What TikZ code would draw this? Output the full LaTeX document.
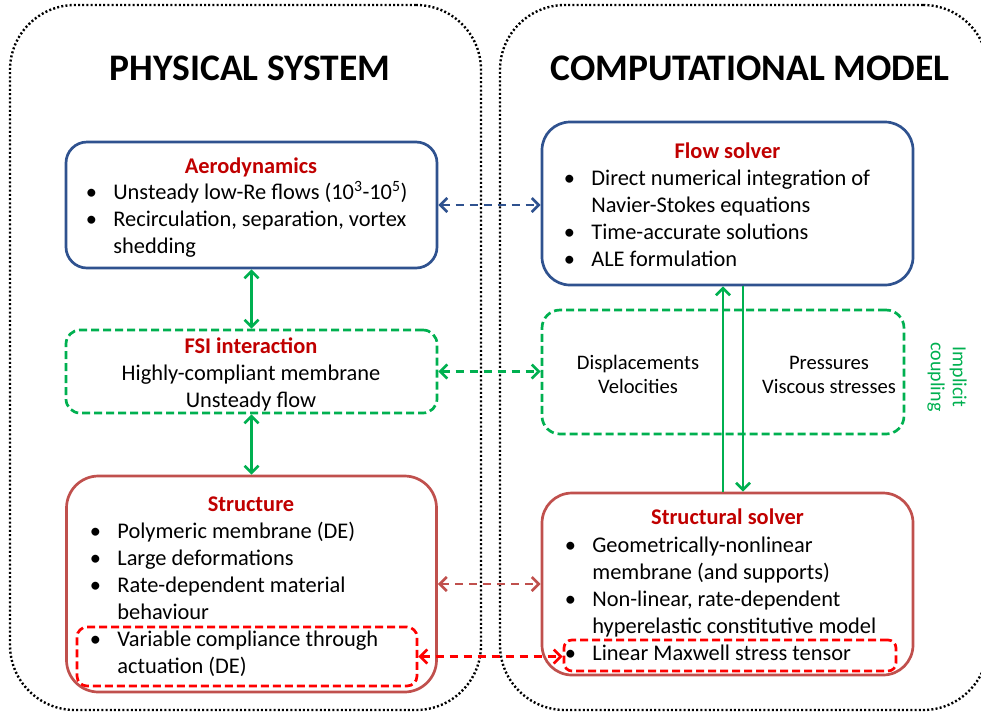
\documentclass[tikz,border=0pt]{standalone}
\usepackage{fontspec}
\setmainfont{Carlito}
\usepackage{tikz}
\usetikzlibrary{arrows.meta, positioning}
\definecolor{boxBlue}{RGB}{47,82,143}
\definecolor{boxBrown}{RGB}{192,80,77}
\definecolor{headRed}{RGB}{192,0,0}
\definecolor{linkGreen}{RGB}{0,176,80}
\definecolor{linkRed}{RGB}{255,0,0}
\newcommand{\bodyfont}{\fontsize{22.4}{27}\selectfont}
\newcommand{\smallbody}{\fontsize{20.6}{24}\selectfont}
\newcommand{\head}[1]{{\bfseries\color{headRed}#1}}
\newcommand{\bul}{\makebox[0pt]{\textbullet}}
\begin{document}
\begin{tikzpicture}[x=1pt, y=-1pt, >={Straight Barb[length=7pt, width=14pt]}, line width=2.7pt]
        % Estilos para los paneles, bloques y enlaces
        \tikzstyle{panel} = [draw, line width=2.4pt, dash pattern=on 2pt off 2.2pt, rounded corners=65pt, inner sep=0pt]
        \tikzstyle{block} = [draw, rectangle, inner sep=0pt]
        \tikzstyle{dashbox} = [block, dash pattern=on 8pt off 4pt]
        \tikzstyle{title} = [anchor=base, font=\fontsize{37.5}{40}\selectfont\bfseries]
        \tikzstyle{blist} = [anchor=base west, inner sep=0pt, font=\bodyfont]
        \tikzstyle{link} = [<->, dash pattern=on 8pt off 6pt]
        \useasboundingbox (0,0) rectangle (981,713);
       % Panels
       \node at (245.5,357.5) [panel, minimum width=471pt, minimum height=705pt] (physical) {}; % Physical system panel
       \node at (744,357.5) [panel, minimum width=488pt, minimum height=705pt] (computational) {}; % Computational model panel
       \node at (250,80) [title] (physTitle) {PHYSICAL SYSTEM};
       \node at (750,80) [title] (compTitle) {COMPUTATIONAL MODEL};
       % Blocks
       \node at (251.5,205) [block, boxBlue, rounded corners=21pt, minimum width=371pt, minimum height=126pt] (aero) {}; % Aerodynamics
       \node at (251.5,371.5) [dashbox, linkGreen, rounded corners=14pt, minimum width=371pt, minimum height=83pt] (fsi) {}; % FSI interaction
       \node at (251.5,584) [block, boxBrown, rounded corners=32pt, minimum width=370pt, minimum height=216pt] (structure) {}; % Structure
       \node at (247,656.5) [dashbox, linkRed, rounded corners=10pt, minimum width=340pt, minimum height=59pt] (actuation) {}; % Actuation item
       \node at (727.5,203.5) [block, boxBlue, rounded corners=28pt, minimum width=371pt, minimum height=163pt] (flow) {}; % Flow solver
       \node at (723,372) [dashbox, linkGreen, rounded corners=18pt, minimum width=362pt, minimum height=124pt] (coupling) {}; % Exchanged quantities
       \node at (727.5,584) [block, boxBrown, rounded corners=30pt, minimum width=371pt, minimum height=182pt] (structural) {}; % Structural solver
       \node at (730,655.5) [dashbox, linkRed, rounded corners=8pt, minimum width=332pt, minimum height=31pt] (maxwell) {}; % Maxwell stress item
       % Texts
       \node at (251,173) [anchor=base, font=\bodyfont] (aeroHead) {\head{Aerodynamics}};
       \node at (90,199) [blist] (aeroList) {\begin{tabular}[t]{@{}p{22pt}@{}l@{}}
         \bul & Unsteady low-Re flows (10\textsuperscript{3}-10\textsuperscript{5})\\
         \bul & Recirculation, separation, vortex\\
              & shedding\end{tabular}};
       \node at (251,353) [anchor=base, inner sep=0pt, font=\bodyfont] (fsiText) {\begin{tabular}[t]{@{}c@{}}
         \head{FSI interaction}\\Highly-compliant membrane\\Unsteady flow\end{tabular}};
       \node at (251,511) [anchor=base, font=\bodyfont] (structHead) {\head{Structure}};
       \node at (94,538) [blist] (structList) {\begin{tabular}[t]{@{}p{22pt}@{}l@{}}
         \bul & Polymeric membrane (DE)\\
         \bul & Large deformations\\
         \bul & Rate-dependent material\\
              & behaviour\\
         \bul & Variable compliance through\\
              & actuation (DE)\end{tabular}};
       \node at (727.5,158) [anchor=base, font=\bodyfont] (flowHead) {\head{Flow solver}};
       \node at (568,185) [blist] (flowList) {\begin{tabular}[t]{@{}p{22pt}@{}l@{}}
         \bul & Direct numerical integration of\\
              & Navier-Stokes equations\\
         \bul & Time-accurate solutions\\
         \bul & ALE formulation\end{tabular}};
       \node at (638,369) [anchor=base, inner sep=0pt, font=\smallbody] (dispText) {\begin{tabular}[t]{@{}c@{}}
         Displacements\\Velocities\end{tabular}};
       \node at (829,369) [anchor=base, inner sep=0pt, font=\smallbody] (presText) {\begin{tabular}[t]{@{}c@{}}
         Pressures\\Viscous stresses\end{tabular}};
       \node at (947,377) [rotate=-90, align=center, text=linkGreen, font=\fontsize{20}{22}\selectfont] (implicit) {Implicit\\coupling};
       \node at (727.5,524) [anchor=base, font=\bodyfont] (solverHead) {\head{Structural solver}};
       \node at (569,552) [blist] (solverList) {\begin{tabular}[t]{@{}p{22pt}@{}l@{}}
         \bul & Geometrically-nonlinear\\
              & membrane (and supports)\\
         \bul & Non-linear, rate-dependent\\
              & hyperelastic constitutive model\\
         \bul & Linear Maxwell stress tensor\end{tabular}};
       % Connections
       \draw[<->, linkGreen] (aero) -- (fsi); % Aerodynamics to FSI
       \draw[<->, linkGreen] (fsi) -- (structure); % FSI to structure
       \draw[link, boxBlue] (aero.east) -- (aero.east -| flow.west); % Aerodynamics to flow solver
       \draw[link, linkGreen] (fsi.east) -- (fsi.east -| coupling.west); % FSI to coupling
       \draw[link, boxBrown] (structure.east) -- (structural.west); % Structure to structural solver
       \draw[link, linkRed] (actuation.east) -- (actuation.east -| maxwell.west); % Actuation to Maxwell stress
       \draw[->, linkGreen] ([xshift=-4.5pt]structural.north) -- ([xshift=-4.5pt]flow.south); % Displacements up
       \draw[->, linkGreen] ([xshift=15.5pt]flow.south) -- ([xshift=15.5pt]structural.north); % Pressures down

      \end{tikzpicture}
\end{document}
